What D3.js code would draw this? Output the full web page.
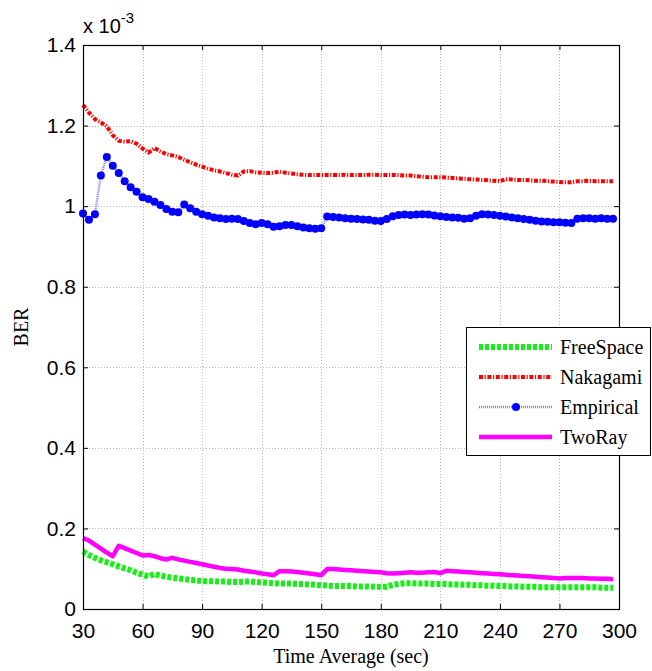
<!DOCTYPE html>
<html>
<head>
<meta charset="utf-8">
<script src="https://cdn.jsdelivr.net/npm/d3@7/dist/d3.min.js"></script>
<style>
  html, body { margin: 0; padding: 0; background: #fff; }
  svg { display: block; }
</style>
</head>
<body>
<svg id="chart" width="652" height="671"></svg>
<script>
// Averaging window (seconds)
const timeSec = [
  30, 33, 36, 39, 42, 45, 48, 51, 54, 57,
  60, 63, 66, 69, 72, 75, 78, 81, 84, 87,
  90, 93, 96, 99, 102, 105, 108, 111, 114, 117,
  120, 123, 126, 129, 132, 135, 138, 141, 144, 147,
  150, 153, 156, 159, 162, 165, 168, 171, 174, 177,
  180, 183, 186, 189, 192, 195, 198, 201, 204, 207,
  210, 213, 216, 219, 222, 225, 228, 231, 234, 237,
  240, 243, 246, 249, 252, 255, 258, 261, 264, 267,
  270, 273, 276, 279, 282, 285, 288, 291, 294, 297
];

// BER values, in units of 1e-3
const freeSpace = [
  0.143, 0.134, 0.127, 0.121, 0.116, 0.111, 0.106, 0.101, 0.096, 0.090,
  0.085, 0.081, 0.087, 0.083, 0.080, 0.078, 0.076, 0.074, 0.072, 0.071,
  0.069, 0.069, 0.069, 0.068, 0.068, 0.067, 0.067, 0.068, 0.068, 0.067,
  0.066, 0.065, 0.064, 0.063, 0.063, 0.063, 0.062, 0.062, 0.061, 0.060,
  0.059, 0.058, 0.057, 0.057, 0.057, 0.057, 0.056, 0.056, 0.056, 0.055,
  0.055, 0.055, 0.060, 0.062, 0.064, 0.064, 0.063, 0.063, 0.063, 0.062,
  0.062, 0.062, 0.061, 0.061, 0.060, 0.060, 0.059, 0.059, 0.058, 0.058,
  0.057, 0.057, 0.056, 0.056, 0.055, 0.055, 0.055, 0.054, 0.054, 0.054,
  0.054, 0.054, 0.054, 0.054, 0.054, 0.054, 0.054, 0.053, 0.053, 0.053
];

const nakagami = [
  1.251, 1.232, 1.216, 1.208, 1.198, 1.176, 1.162, 1.160, 1.161, 1.155,
  1.143, 1.133, 1.144, 1.136, 1.129, 1.126, 1.122, 1.115, 1.109, 1.103,
  1.098, 1.093, 1.089, 1.086, 1.082, 1.078, 1.076, 1.086, 1.087, 1.084,
  1.083, 1.082, 1.083, 1.086, 1.083, 1.081, 1.079, 1.078, 1.077, 1.077,
  1.077, 1.077, 1.077, 1.077, 1.078, 1.077, 1.077, 1.077, 1.078, 1.078,
  1.077, 1.077, 1.077, 1.077, 1.076, 1.076, 1.074, 1.073, 1.072, 1.072,
  1.072, 1.071, 1.070, 1.069, 1.068, 1.067, 1.066, 1.065, 1.064, 1.063,
  1.062, 1.067, 1.066, 1.065, 1.065, 1.064, 1.063, 1.063, 1.062, 1.061,
  1.060, 1.059, 1.059, 1.062, 1.062, 1.063, 1.062, 1.062, 1.062, 1.062
];

const empirical = [
  0.982, 0.966, 0.980, 1.076, 1.122, 1.100, 1.082, 1.062, 1.047, 1.036,
  1.022, 1.018, 1.011, 1.003, 0.993, 0.986, 0.985, 1.004, 0.995, 0.986,
  0.980, 0.976, 0.972, 0.970, 0.968, 0.969, 0.968, 0.963, 0.958, 0.955,
  0.958, 0.955, 0.949, 0.950, 0.953, 0.953, 0.950, 0.947, 0.945, 0.944,
  0.945, 0.974, 0.973, 0.972, 0.970, 0.969, 0.968, 0.967, 0.966, 0.964,
  0.963, 0.968, 0.975, 0.978, 0.979, 0.978, 0.979, 0.980, 0.979, 0.977,
  0.975, 0.973, 0.972, 0.971, 0.969, 0.970, 0.976, 0.980, 0.979, 0.978,
  0.976, 0.974, 0.972, 0.970, 0.968, 0.966, 0.964, 0.962, 0.961, 0.960,
  0.960, 0.959, 0.958, 0.969, 0.970, 0.970, 0.969, 0.970, 0.969, 0.969
];

const twoRay = [
  0.176, 0.170, 0.160, 0.150, 0.140, 0.131, 0.157, 0.151, 0.145, 0.139,
  0.133, 0.134, 0.131, 0.126, 0.123, 0.127, 0.123, 0.120, 0.117, 0.114,
  0.111, 0.108, 0.105, 0.102, 0.100, 0.099, 0.098, 0.095, 0.093, 0.091,
  0.088, 0.086, 0.084, 0.094, 0.094, 0.093, 0.092, 0.090, 0.088, 0.086,
  0.084, 0.099, 0.099, 0.098, 0.097, 0.096, 0.095, 0.094, 0.093, 0.092,
  0.091, 0.089, 0.088, 0.089, 0.090, 0.091, 0.090, 0.090, 0.091, 0.092,
  0.089, 0.095, 0.094, 0.093, 0.092, 0.091, 0.090, 0.089, 0.088, 0.087,
  0.086, 0.085, 0.084, 0.083, 0.082, 0.081, 0.080, 0.079, 0.078, 0.077,
  0.076, 0.077, 0.077, 0.077, 0.077, 0.076, 0.076, 0.075, 0.075, 0.074
];

const xTicks = [30, 60, 90, 120, 150, 180, 210, 240, 270, 300];
const yTicks = [0, 0.2, 0.4, 0.6, 0.8, 1, 1.2, 1.4];
const legendNames = ["FreeSpace", "Nakagami", "Empirical", "TwoRay"];

const svg = d3.select("#chart");
const plot = { left: 83, right: 619, top: 45, bottom: 609 };

const x = d3.scaleLinear().domain([30, 300]).range([plot.left, plot.right]);
const y = d3.scaleLinear().domain([0, 1.4]).range([plot.bottom, plot.top]);

const sansFont = "'Liberation Sans', Arial, Helvetica, sans-serif";
const serifFont = "'Liberation Serif', 'Times New Roman', serif";

// Dotted grid
const grid = svg.append("g").attr("stroke", "#b8b8b8").attr("stroke-width", 1)
  .attr("stroke-dasharray", "1,2").attr("shape-rendering", "crispEdges");
grid.selectAll(".gx").data(xTicks.slice(1, -1)).join("line")
  .attr("x1", d => Math.round(x(d)) + 0.5).attr("x2", d => Math.round(x(d)) + 0.5)
  .attr("y1", plot.top).attr("y2", plot.bottom);
grid.selectAll(".gy").data(yTicks.slice(1, -1)).join("line")
  .attr("y1", d => Math.round(y(d)) + 0.5).attr("y2", d => Math.round(y(d)) + 0.5)
  .attr("x1", plot.left).attr("x2", plot.right);

// Series styles
const series = [
  { name: "FreeSpace", values: freeSpace, color: "#14f014", width: 6, dash: "4,2" },
  { name: "Nakagami", values: nakagami, color: "#ff0000", width: 4, dash: "4,1.6,1.2,1.6" },
  { name: "Empirical", values: empirical, color: "#8080ff", width: 2.5, dash: "1,1", marker: "#0000ff" },
  { name: "TwoRay", values: twoRay, color: "#ff00ff", width: 4.5, dash: null }
];

const lineGen = vals => d3.line()
  .x((d, i) => x(timeSec[i]))
  .y(d => y(d))(vals);

const marks = svg.append("g");
series.forEach(s => {
  marks.append("path")
    .attr("d", lineGen(s.values))
    .attr("fill", "none")
    .attr("stroke", s.color)
    .attr("stroke-width", s.width)
    .attr("stroke-linejoin", "round")
    .attr("stroke-dasharray", s.dash);
  if (s.marker) {
    marks.append("g").selectAll("circle").data(s.values).join("circle")
      .attr("cx", (d, i) => x(timeSec[i]))
      .attr("cy", d => y(d))
      .attr("r", 4)
      .attr("fill", s.marker);
  }
});

// Axes (ticks point inward on all four sides)
const fmt = d => (d === 0 ? "0" : d3.format("")(+d.toFixed(1)));
const axB = svg.append("g").attr("transform", `translate(0,${plot.bottom})`)
  .call(d3.axisBottom(x).tickValues(xTicks).tickSizeInner(-5).tickSizeOuter(0).tickPadding(14));
const axL = svg.append("g").attr("transform", `translate(${plot.left},0)`)
  .call(d3.axisLeft(y).tickValues(yTicks).tickFormat(fmt).tickSizeInner(-5).tickSizeOuter(0).tickPadding(7));
const axT = svg.append("g").attr("transform", `translate(0,${plot.top})`)
  .call(d3.axisTop(x).tickValues(xTicks).tickSizeInner(-5).tickSizeOuter(0).tickFormat(""));
const axR = svg.append("g").attr("transform", `translate(${plot.right},0)`)
  .call(d3.axisRight(y).tickValues(yTicks).tickSizeInner(-5).tickSizeOuter(0).tickFormat(""));

[axB, axL, axT, axR].forEach(a => {
  a.select(".domain").remove();
  a.selectAll(".tick line").attr("stroke", "#000").attr("stroke-width", 1);
  a.selectAll("text").attr("font-family", sansFont).attr("font-size", 21).attr("fill", "#000");
});

// Plot frame
svg.append("rect")
  .attr("x", plot.left + 0.5).attr("y", plot.top + 0.5)
  .attr("width", plot.right - plot.left).attr("height", plot.bottom - plot.top)
  .attr("fill", "none").attr("stroke", "#000").attr("stroke-width", 1.2);

// Exponent label
const expo = svg.append("text").attr("x", 83).attr("y", 33)
  .attr("font-family", sansFont).attr("font-size", 20).attr("fill", "#000");
expo.append("tspan").text("x 10");
expo.append("tspan").attr("font-size", 15).attr("dy", -10).text("-3");

// Axis titles
svg.append("text").attr("x", 351).attr("y", 663).attr("text-anchor", "middle")
  .attr("font-family", serifFont).attr("font-size", 20).attr("fill", "#000")
  .text("Time Average (sec)");
svg.append("text").attr("transform", "translate(28,327) rotate(-90)")
  .attr("text-anchor", "middle")
  .attr("font-family", serifFont).attr("font-size", 20).attr("fill", "#000")
  .text("BER");

// Legend
const lg = svg.append("g");
lg.append("rect").attr("x", 466.5).attr("y", 327.5).attr("width", 184).attr("height", 128)
  .attr("fill", "#fff").attr("stroke", "#000").attr("stroke-width", 1);
const rowY = [347, 377, 407, 437];
series.forEach(s => {
  const ry = rowY[legendNames.indexOf(s.name)];
  lg.append("line").attr("x1", 479).attr("x2", 552).attr("y1", ry).attr("y2", ry)
    .attr("stroke", s.color).attr("stroke-width", s.width).attr("stroke-dasharray", s.dash);
  if (s.marker) {
    lg.append("circle").attr("cx", 516).attr("cy", ry).attr("r", 4).attr("fill", s.marker);
  }
  lg.append("text").attr("x", 560).attr("y", ry + 6.5)
    .attr("font-family", serifFont).attr("font-size", 20).attr("fill", "#000")
    .text(s.name);
});
</script>
</body>
</html>
